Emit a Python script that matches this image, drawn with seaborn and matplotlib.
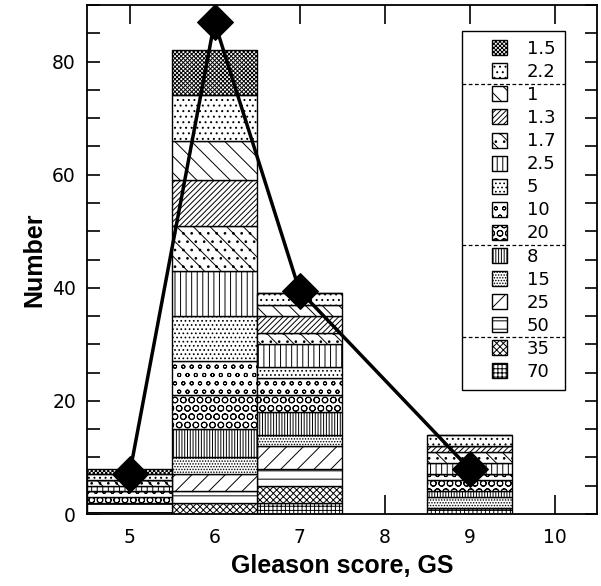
import numpy as np
import pandas as pd
import matplotlib
matplotlib.use("Agg")
import matplotlib.pyplot as plt
from matplotlib.lines import Line2D
import matplotlib.patches as mpatches
from matplotlib.legend_handler import HandlerPatch
import seaborn as sns

# ---- data ----
gs_values = [5, 6, 7, 9]
categories = ["1.5", "2.2", "1", "1.3", "1.7", "2.5", "5", "10", "20",
              "8", "15", "25", "50", "35", "70"]
# counts per category (rows) for GS = 5, 6, 7, 9
cnt_1_5 = [1, 8, 0, 0]
cnt_2_2 = [1, 8, 2, 2]
cnt_1   = [0, 7, 2, 0]
cnt_1_3 = [0, 8, 3, 1]
cnt_1_7 = [1, 8, 2, 2]
cnt_2_5 = [1, 8, 4, 2]
cnt_5   = [0, 8, 2, 0]
cnt_10  = [1, 6, 3, 1]
cnt_20  = [1, 6, 3, 2]
cnt_8   = [0, 5, 4, 1]
cnt_15  = [0, 3, 2, 2]
cnt_25  = [0, 3, 4, 0]
cnt_50  = [2, 2, 3, 0]
cnt_35  = [0, 2, 3, 0]
cnt_70  = [0, 0, 2, 1]
counts = [cnt_1_5, cnt_2_2, cnt_1, cnt_1_3, cnt_1_7, cnt_2_5, cnt_5, cnt_10,
          cnt_20, cnt_8, cnt_15, cnt_25, cnt_50, cnt_35, cnt_70]
line_gs = [5, 6, 7, 9]
line_number = [7, 87, 39.5, 8]
x_ticks = [5, 6, 7, 8, 9, 10]
y_ticks = [0, 20, 40, 60, 80]

hatches = ["xxxxxxxx", "...", "\\\\", "//////", "\\\\..", "|||", "....",
           "oo", "OO", "||||||", "......", "//", "--", "xxxxx", "++++"]
group_breaks = [1, 8, 12]  # dashed separators after these legend indices

# ---- style ----
sns.set_style("ticks")
plt.rcParams["font.family"] = ["DejaVu Sans"]
plt.rcParams["hatch.linewidth"] = 0.7
plt.rcParams["hatch.color"] = "black"
for key in ["text.color", "axes.labelcolor", "xtick.color", "ytick.color",
            "axes.edgecolor"]:
    plt.rcParams[key] = "black"

fig = plt.figure(figsize=(6.01, 5.86), dpi=100)
ax = fig.add_axes([87 / 601, 72 / 586, 510 / 601, 509 / 586])

# stacked bars, bottom = last category, top = first
bottoms = np.zeros(len(gs_values))
for cat, vals, h in reversed(list(zip(categories, counts, hatches))):
    vals = np.array(vals, dtype=float)
    ax.bar(gs_values, vals, width=1.0, bottom=bottoms, color="white",
           edgecolor="black", linewidth=1.0, hatch=h, label=cat, zorder=2)
    bottoms += vals

df_line = pd.DataFrame({"GS": line_gs, "Number": line_number})
sns.lineplot(data=df_line, x="GS", y="Number", ax=ax, color="black",
             linewidth=2.5, marker="D", markersize=18, markeredgecolor="black",
             markerfacecolor="black", zorder=5, legend=False)

ax.set_xlim(4.5, 10.5)
ax.set_ylim(0, 90)
ax.set_xticks(x_ticks)
ax.set_yticks(y_ticks)
ax.set_yticks(np.arange(0, 91, 5), minor=True)
ax.tick_params(axis="x", which="both", direction="in", top=True, length=14,
               width=1.2, labelsize=13.5, pad=10, colors="black")
ax.tick_params(axis="y", which="both", direction="in", right=True, length=9,
               width=1.2, labelsize=13.5, pad=8, colors="black")
for sp in ax.spines.values():
    sp.set_linewidth(1.3)
    sp.set_color("black")

ax.set_xlabel("Gleason score, GS", fontsize=18, fontweight="bold",
              family="Liberation Sans", labelpad=5, color="black")
ax.set_ylabel("Number", fontsize=18, fontweight="bold",
              family="Liberation Sans", labelpad=4, color="black")


def square_patch(legend, orig_handle, xdescent, ydescent, width, height,
                 fontsize):
    s = height * 1.0
    return mpatches.Rectangle((width - s - xdescent, -ydescent + (height - s) / 2),
                              s, s)


leg_handles = [mpatches.Patch(facecolor="white", edgecolor="black", hatch=h,
                              linewidth=1.0) for h in hatches]
leg = ax.legend(leg_handles, categories, loc="upper left",
                bbox_to_anchor=((462 - 87) / 510, (514 - 31) / 509),
                frameon=True, fancybox=False, edgecolor="black",
                fontsize=13, handlelength=2.0, handleheight=0.9,
                labelspacing=0.28, handletextpad=1.1, borderpad=0.5,
                borderaxespad=0, framealpha=1, labelcolor="black",
                handler_map={mpatches.Patch: HandlerPatch(patch_func=square_patch)})
leg.get_frame().set_linewidth(1.0)
leg.set_zorder(10)

fig.canvas.draw()
renderer = fig.canvas.get_renderer()
frame_bb = leg.get_frame().get_window_extent(renderer)
texts = leg.get_texts()
inv = fig.transFigure.inverted()
for i in group_breaks:
    b1 = texts[i].get_window_extent(renderer)
    b2 = texts[i + 1].get_window_extent(renderer)
    ymid = (b1.y0 + b2.y1) / 2
    (x0, y0) = inv.transform((frame_bb.x0, ymid))
    (x1, _) = inv.transform((frame_bb.x1, ymid))
    fig.add_artist(Line2D([x0, x1], [y0, y0], transform=fig.transFigure,
                          color="black", linestyle=(0, (3, 2)), linewidth=0.9,
                          zorder=11))

fig.savefig("out.png", dpi=100)
